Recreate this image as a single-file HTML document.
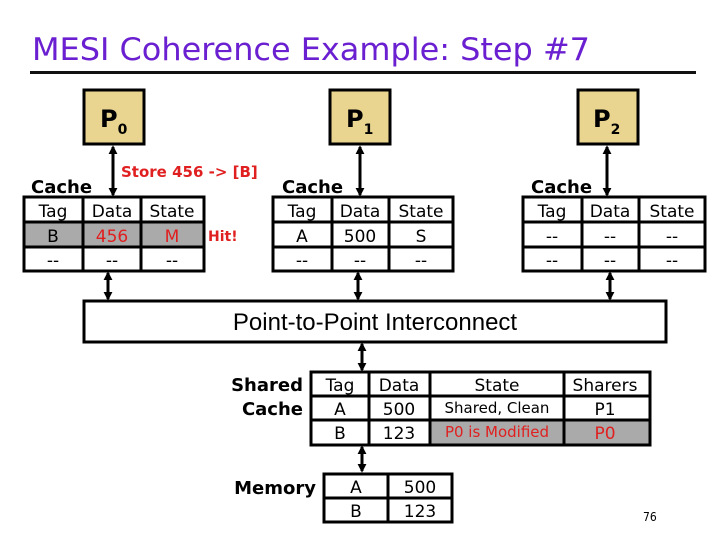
<!DOCTYPE html>
<html><head><meta charset="utf-8"><style>
html,body{margin:0;padding:0;background:#fff;}
svg{display:block;}
text{font-family:"DejaVu Sans","Liberation Sans",sans-serif;}
.b{font-weight:bold;}
</style></head><body>
<svg width="720" height="540" viewBox="0 0 720 540" xmlns="http://www.w3.org/2000/svg">
<defs>
<marker id="ah" viewBox="0 0 10 10" refX="8" refY="5" markerWidth="3" markerHeight="3" orient="auto-start-reverse"><path d="M0,0 L10,5 L0,10 z" fill="#000"/></marker>
</defs>
<text x="32" y="60" font-size="31" fill="#6a1fd0" style="font-family:'DejaVu Sans Condensed','DejaVu Sans',sans-serif" textLength="558" lengthAdjust="spacingAndGlyphs">MESI Coherence Example: Step #7</text>
<rect x="30" y="71" width="666" height="3" fill="#111"/>

<!-- processors -->
<g stroke="#000" stroke-width="3" fill="#e9d58f">
<rect x="84" y="90" width="60" height="54"/>
<rect x="330" y="90" width="60" height="54"/>
<rect x="578" y="90" width="60" height="54"/>
</g>
<g font-size="24" class="b" style="font-family:'Liberation Sans',sans-serif;font-weight:bold">
<text x="100" y="127">P<tspan font-size="14" dy="7">0</tspan></text>
<text x="346" y="127">P<tspan font-size="14" dy="7">1</tspan></text>
<text x="593" y="127">P<tspan font-size="14" dy="7">2</tspan></text>
</g>

<!-- arrows -->
<g stroke="#000" stroke-width="3" marker-start="url(#ah)" marker-end="url(#ah)">
<line x1="113" y1="147" x2="113" y2="195"/>
<line x1="360" y1="147" x2="360" y2="195"/>
<line x1="607" y1="147" x2="607" y2="195"/>
<line x1="108" y1="273" x2="108" y2="299"/>
<line x1="358" y1="273" x2="358" y2="299"/>
<line x1="610" y1="273" x2="610" y2="299"/>
<line x1="362" y1="344" x2="362" y2="370"/>
<line x1="362" y1="447" x2="362" y2="471"/>
</g>

<text x="121" y="177" font-size="15" fill="#e02020" class="b">Store 456 -&gt; [B]</text>
<text x="31" y="193" font-size="18" class="b">Cache</text>
<text x="282" y="193" font-size="18" class="b">Cache</text>
<text x="531" y="193" font-size="18" class="b">Cache</text>

<!-- P0 table -->
<rect x="24" y="222" width="180" height="25" fill="#aaa"/>
<g stroke="#000" stroke-width="3" fill="none">
<rect x="24" y="197" width="180" height="74"/>
<line x1="24" y1="222" x2="204" y2="222"/><line x1="24" y1="247" x2="204" y2="247"/>
<line x1="83" y1="197" x2="83" y2="271"/><line x1="141" y1="197" x2="141" y2="271"/>
<rect x="273" y="197" width="180" height="74"/>
<line x1="273" y1="222" x2="453" y2="222"/><line x1="273" y1="247" x2="453" y2="247"/>
<line x1="332" y1="197" x2="332" y2="271"/><line x1="389" y1="197" x2="389" y2="271"/>
<rect x="523" y="197" width="182" height="74"/>
<line x1="523" y1="222" x2="705" y2="222"/><line x1="523" y1="247" x2="705" y2="247"/>
<line x1="582" y1="197" x2="582" y2="271"/><line x1="639" y1="197" x2="639" y2="271"/>
</g>
<g font-size="17" text-anchor="middle">
<text x="53" y="217">Tag</text><text x="112" y="217">Data</text><text x="172" y="217">State</text>
<text x="53" y="242">B</text><text x="112" y="242" fill="#e02020">456</text><text x="172" y="242" fill="#e02020">M</text>
<text x="53" y="266">--</text><text x="112" y="266">--</text><text x="172" y="266">--</text>
<text x="302" y="217">Tag</text><text x="360" y="217">Data</text><text x="421" y="217">State</text>
<text x="302" y="242">A</text><text x="360" y="242">500</text><text x="421" y="242">S</text>
<text x="302" y="266">--</text><text x="360" y="266">--</text><text x="421" y="266">--</text>
<text x="552" y="217">Tag</text><text x="610" y="217">Data</text><text x="672" y="217">State</text>
<text x="552" y="242">--</text><text x="610" y="242">--</text><text x="672" y="242">--</text>
<text x="552" y="266">--</text><text x="610" y="266">--</text><text x="672" y="266">--</text>
</g>
<text x="208" y="241" font-size="14" fill="#e02020" class="b">Hit!</text>

<!-- interconnect -->
<rect x="84" y="301" width="582" height="41" fill="#fff" stroke="#000" stroke-width="3"/>
<text x="375" y="330" font-size="24" text-anchor="middle" style="font-family:'Liberation Sans',sans-serif">Point-to-Point Interconnect</text>

<!-- shared cache -->
<rect x="430" y="420" width="220" height="25" fill="#aaa"/>
<g stroke="#000" stroke-width="3" fill="none">
<rect x="311" y="372" width="339" height="73"/>
<line x1="311" y1="396" x2="650" y2="396"/><line x1="311" y1="420" x2="650" y2="420"/>
<line x1="369" y1="372" x2="369" y2="445"/><line x1="430" y1="372" x2="430" y2="445"/><line x1="564" y1="372" x2="564" y2="445"/>
<rect x="324" y="474" width="128" height="48"/>
<line x1="324" y1="498" x2="452" y2="498"/><line x1="388" y1="474" x2="388" y2="522"/>
</g>
<g font-size="18" class="b" text-anchor="end">
<text x="303" y="391">Shared</text><text x="303" y="415">Cache</text>
<text x="316" y="494">Memory</text>
</g>
<g font-size="17" text-anchor="middle">
<text x="340" y="391">Tag</text><text x="399" y="391">Data</text><text x="497" y="391">State</text><text x="605" y="391">Sharers</text>
<text x="340" y="415">A</text><text x="399" y="415">500</text><text x="497" y="413" font-size="15">Shared, Clean</text><text x="605" y="415">P1</text>
<text x="340" y="439">B</text><text x="399" y="439">123</text><text x="497" y="437" font-size="15" fill="#e02020">P0 is Modified</text><text x="605" y="439" fill="#e02020">P0</text>
<text x="356" y="493">A</text><text x="420" y="493">500</text>
<text x="356" y="517">B</text><text x="420" y="517">123</text>
</g>
<text x="643" y="521" font-size="12" style="font-family:'DejaVu Sans Condensed',sans-serif">76</text>
</svg>
</body></html>
